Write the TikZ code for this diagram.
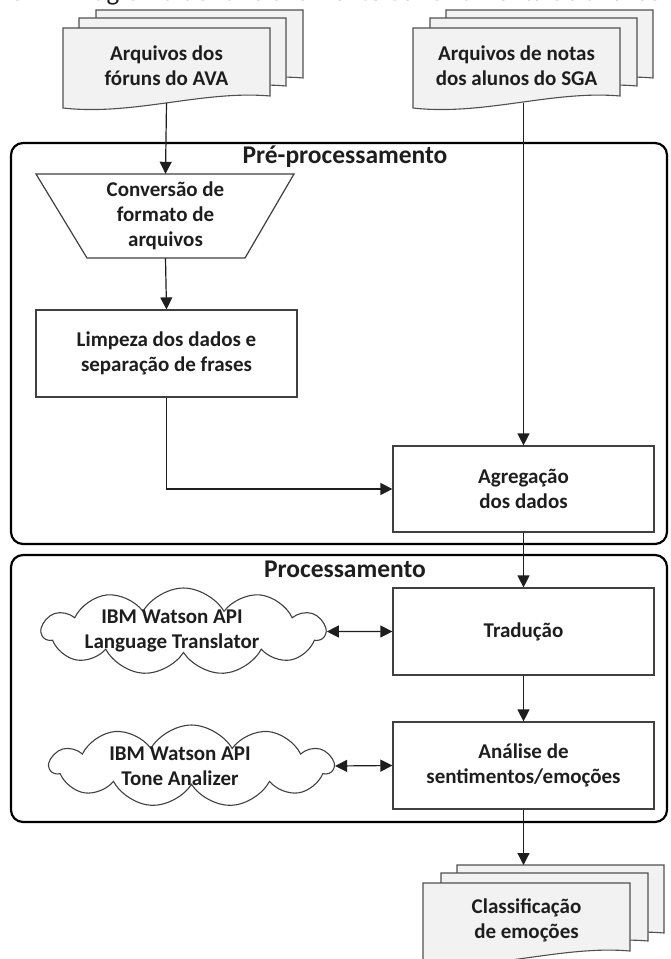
\documentclass[tikz,border=0pt]{standalone}
\usepackage{fontspec}
\setmainfont{Carlito}
\usetikzlibrary{arrows.meta,shapes.symbols}

\definecolor{sheetfill}{HTML}{F2F2F2}
\definecolor{sheetline}{HTML}{505050}
\definecolor{boxline}{HTML}{404040}
\definecolor{ink}{HTML}{1E1E1E}

% one sheet of a document stack, given its top-left corner
\newcommand{\SheetAt}[2]{%
  \draw[sheet,shift={(#1,#2)}] (0,0) -- (207,0) -- (207,68)
    .. controls (140,62) and (70,88) .. (0,80) -- cycle;}

\begin{document}
\begin{tikzpicture}[x=1pt,y=-1pt,
  sheet/.style={fill=sheetfill,draw=sheetline,line width=1.1pt},
  bodyfont/.style={font=\bfseries\fontsize{21}{25}\selectfont,text=ink,align=center},
  doctext/.style={bodyfont,minimum width=207pt,minimum height=75pt,inner sep=0pt},
  procbox/.style={bodyfont,draw=boxline,line width=1.2pt,fill=white,
    minimum width=261pt,minimum height=86pt,inner sep=0pt},
  stage/.style={draw=black,line width=2.2pt,rounded corners=12pt,inner sep=0pt},
  stagetitle/.style={font=\bfseries\fontsize{25.5}{30}\selectfont,text=ink},
  conn/.style={draw=ink,line width=1.2pt,-{Triangle[length=12pt,width=12pt]}},
  twoway/.style={draw=ink,line width=1.2pt,
    {Triangle[length=12pt,width=12pt]}-{Triangle[length=12pt,width=12pt]}},
  api/.style={cloud,cloud puffs=11,cloud puff arc=120,cloud ignores aspect,
    draw=boxline,line width=1.1pt,fill=white,
    minimum width=283pt,minimum height=87pt,inner sep=0pt},
  apitext/.style={bodyfont}
]
\useasboundingbox (0,0) rectangle (670,959);
\fill[white] (0,0) rectangle (670,959);

% caption line, running off the top edge
\node[anchor=base west,inner sep=0pt,font=\fontsize{27}{32}\selectfont,text=ink]
  (caption) at (-42,0) {Figura 2 – Diagrama de funcionamento da ferramenta de análise de sentimentos};

% stage containers
\node[stage,minimum width=656pt,minimum height=401pt] (pre) at (339,343.5) {};
\node[stagetitle] (pre-title) at (345,157) {Pré-processamento};
\node[stage,minimum width=656pt,minimum height=267pt] (proc) at (339,688.5) {};
\node[stagetitle] (proc-title) at (345,569) {Processamento};

% input document stacks
\SheetAt{96}{10}\SheetAt{79}{18}\SheetAt{63}{28}
\node[doctext] (ava) at (166.5,65.5) {Arquivos dos\\fóruns do AVA};
\SheetAt{446}{10}\SheetAt{430}{18}\SheetAt{413}{28}
\node[doctext] (sga) at (516.5,65.5) {Arquivos de notas\\dos alunos do SGA};

% output document stack
\SheetAt{457}{865}\SheetAt{441}{873}\SheetAt{423}{883}
\node[doctext] (cls) at (526.5,920.5) {Classificação\\de emoções};
\coordinate (cls-top) at (526.5,865);

% file format conversion (manual operation)
\draw[draw=boxline,line width=1.2pt,fill=white]
  (36,174) -- (294,174) -- (245,258) -- (87,258) -- cycle;
\node[bodyfont,minimum width=258pt,minimum height=84pt,inner sep=0pt] (conv)
  at (165.5,216) {Conversão de\\formato de\\arquivos};

% process steps
\node[procbox,minimum height=87pt] (limp) at (166.5,353.5) {Limpeza dos dados e\\separação de frases};
\node[procbox] (agg) at (523.5,489) {Agregação\\dos dados};
\node[procbox,minimum height=87pt] (trad) at (523.5,631.5) {Tradução};
\node[procbox,minimum height=87pt] (anl) at (523.5,765.5) {Análise de\\sentimentos/emoções};

% external services
\node[api] (lt) at (183.5,631.5) {};
\node[apitext] (lt-text) at (172,631) {IBM Watson API\\Language Translator};
\node[api,minimum height=82pt] (ta) at (191.5,766) {};
\node[apitext] (ta-text) at (180,766) {IBM Watson API\\Tone Analizer};

% flow
\draw[conn] (ava.south) -- (conv.north);
\draw[conn] (conv.south) -- (limp.north);
\draw[conn] (limp.south) |- (agg.west);
\draw[conn] (sga.south -| agg.north) -- (agg.north);
\draw[conn] (agg.south) -- (trad.north);
\draw[conn] (trad.south) -- (anl.north);
\draw[conn] (anl.south) -- (anl.south |- cls-top);
\draw[twoway] (lt.east) -- (trad.west);
\draw[twoway] (ta.east) -- (anl.west);
\end{tikzpicture}
\end{document}
